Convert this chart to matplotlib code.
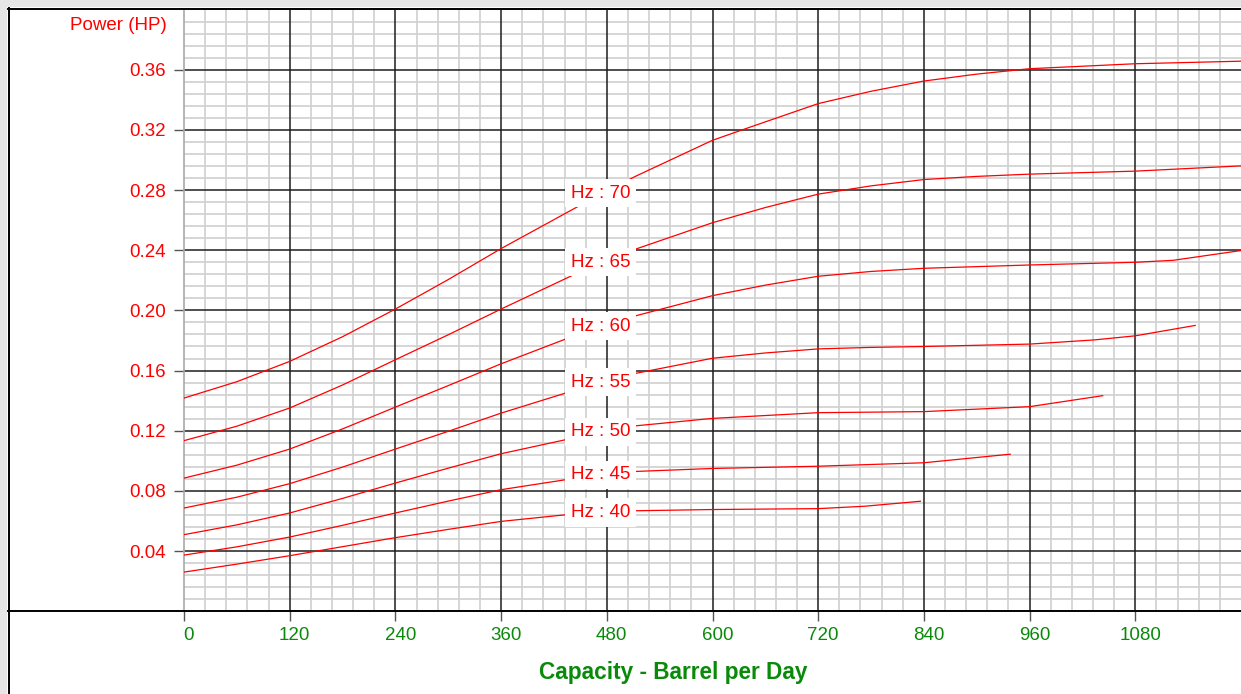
import numpy as np
import matplotlib
matplotlib.use('Agg')
import matplotlib.pyplot as plt
import matplotlib.transforms as mtransforms
from matplotlib.lines import Line2D
from matplotlib.patches import Rectangle

plt.rcParams['font.family'] = ['Liberation Sans', 'DejaVu Sans']

# pump power curves, one per drive frequency
hz70_x = [0, 60, 120, 180, 240, 300, 360, 457, 512, 600, 638, 720, 780, 840, 900, 960, 1080, 1200]
hz70_y = [0.1417, 0.1526, 0.1661, 0.1825, 0.2009, 0.2205, 0.2411, 0.2722, 0.2890, 0.3131, 0.3209,
          0.3375, 0.3457, 0.3525, 0.3571, 0.3607, 0.3640, 0.3657]

hz65_x = [0, 60, 120, 180, 240, 300, 360, 449, 508, 600, 660, 720, 780, 840, 900, 960, 1080, 1200]
hz65_y = [0.1134, 0.1230, 0.1351, 0.1504, 0.1672, 0.1838, 0.2009, 0.2255, 0.2398, 0.2583, 0.2684,
          0.2773, 0.2828, 0.2870, 0.2891, 0.2906, 0.2926, 0.2961]

hz60_x = [0, 60, 120, 180, 240, 300, 360, 433, 503, 600, 660, 720, 780, 840, 960, 1080, 1123, 1200]
hz60_y = [0.0885, 0.0971, 0.1078, 0.1212, 0.1357, 0.1500, 0.1645, 0.1809, 0.1949, 0.2098, 0.2168,
          0.2227, 0.2259, 0.2280, 0.2302, 0.2320, 0.2333, 0.2398]

hz55_x = [0, 60, 120, 180, 240, 300, 360, 433, 503, 600, 660, 720, 780, 840, 960, 1034, 1080, 1148]
hz55_y = [0.0686, 0.0758, 0.0848, 0.0958, 0.1078, 0.1196, 0.1317, 0.1450, 0.1570, 0.1682, 0.1717,
          0.1744, 0.1754, 0.1760, 0.1776, 0.1804, 0.1831, 0.1900]

hz50_x = [0, 60, 120, 180, 240, 300, 360, 433, 503, 600, 720, 840, 960, 1043]
hz50_y = [0.0509, 0.0574, 0.0653, 0.0750, 0.0852, 0.0951, 0.1047, 0.1140, 0.1227, 0.1282, 0.1320,
          0.1327, 0.1360, 0.1433]

hz45_x = [0, 60, 120, 180, 240, 300, 360, 433, 503, 600, 720, 840, 938]
hz45_y = [0.0373, 0.0428, 0.0493, 0.0571, 0.0653, 0.0732, 0.0808, 0.0874, 0.0927, 0.0949, 0.0964,
          0.0987, 0.1044]

hz40_x = [0, 60, 120, 180, 240, 300, 360, 433, 503, 600, 720, 773, 836]
hz40_y = [0.0260, 0.0313, 0.0369, 0.0429, 0.0489, 0.0544, 0.0597, 0.0641, 0.0667, 0.0676, 0.0682,
          0.0698, 0.0731]

curves = [
    ('Hz : 70', hz70_x, hz70_y),
    ('Hz : 65', hz65_x, hz65_y),
    ('Hz : 60', hz60_x, hz60_y),
    ('Hz : 55', hz55_x, hz55_y),
    ('Hz : 50', hz50_x, hz50_y),
    ('Hz : 45', hz45_x, hz45_y),
    ('Hz : 40', hz40_x, hz40_y),
]

x_ticks = [0, 120, 240, 360, 480, 600, 720, 840, 960, 1080]
y_ticks = [0.04, 0.08, 0.12, 0.16, 0.20, 0.24, 0.28, 0.32, 0.36]

RED = '#ff0000'
GREEN = '#0a8a0a'

W, H = 1241, 694
fig = plt.figure(figsize=(W / 100, H / 100), dpi=100)
fig.patch.set_facecolor('white')


def fx(px):
    return px / W


def fy(py):
    return 1 - py / H


# plot area in pixel terms
left, right, top, bottom = 184, 1241, 9.6, 611.2
ax = fig.add_axes([fx(left), fy(bottom), fx(right - left), (bottom - top) / H])
ax.set_xlim(0, 1200)
ax.set_ylim(0, 0.40)

ax.set_xticks(x_ticks)
ax.set_yticks(y_ticks)
ax.set_xticklabels([str(v) for v in x_ticks])
ax.set_yticklabels([f'{v:.2f}' for v in y_ticks])

# graph-paper grid: light lines every 24 bpd / 0.008 HP, dark lines on the ticks
minor_x = [v for v in range(24, 1201, 24) if v % 120 != 0]
minor_y = [k * 0.008 for k in range(1, 50) if k % 5 != 0]
ax.vlines(minor_x, 0, 0.40, color='#d0d0d0', linewidth=1.2, zorder=0.5)
ax.hlines(minor_y, 0, 1200, color='#d0d0d0', linewidth=1.2, zorder=0.5)
ax.vlines(x_ticks[1:], 0, 0.40, color='#1e1e1e', linewidth=1.1, zorder=1)
ax.hlines(y_ticks, 0, 1200, color='#1e1e1e', linewidth=1.1, zorder=1)

for side in ['top', 'right', 'bottom']:
    ax.spines[side].set_visible(False)
ax.spines['left'].set_color('#a8a8a8')
ax.spines['left'].set_linewidth(1.2)

ax.tick_params(which='major', length=7.2, width=1.0, color='#555555', direction='out')
ax.tick_params(axis='y', which='major', labelcolor=RED, labelsize=13.5, pad=6.0)
ax.tick_params(axis='x', which='major', labelcolor=GREEN, labelsize=13.5, pad=4.5)

shift = mtransforms.ScaledTranslation(5 / 100, 0, fig.dpi_scale_trans)
for lbl in ax.get_xticklabels():
    lbl.set_transform(lbl.get_transform() + shift)

for name, xs, ys in curves:
    ax.plot(xs, ys, color=RED, linewidth=0.9, zorder=3)
    ax.text(473, np.interp(476, xs, ys), name, color=RED, fontsize=13.5,
            ha='center', va='center', zorder=5,
            bbox=dict(boxstyle='square,pad=0.3', fc='white', ec='none'))

# outer frame: grey margin, black border and the long baseline
fig.add_artist(Rectangle((0, fy(7)), 1, 7 / H, transform=fig.transFigure,
                         facecolor='#e6e6e6', edgecolor='none'))
fig.add_artist(Rectangle((0, 0), fx(7), 1, transform=fig.transFigure,
                         facecolor='#e6e6e6', edgecolor='none'))
fig.add_artist(Line2D([fx(8), 1], [fy(8.5), fy(8.5)], transform=fig.transFigure,
                      color='black', linewidth=1.4))
fig.add_artist(Line2D([fx(8.5), fx(8.5)], [0, fy(8)], transform=fig.transFigure,
                      color='black', linewidth=1.4))
fig.add_artist(Line2D([fx(8), 1], [fy(bottom), fy(bottom)], transform=fig.transFigure,
                      color='black', linewidth=1.4))

fig.text(fx(167), fy(25), 'Power (HP)', color=RED, fontsize=13.5, ha='right', va='center')
fig.text(fx(673), fy(673), 'Capacity - Barrel per Day', color=GREEN, fontsize=16.3,
         fontweight='bold', ha='center', va='center')

fig.savefig('out.png', dpi=100)
